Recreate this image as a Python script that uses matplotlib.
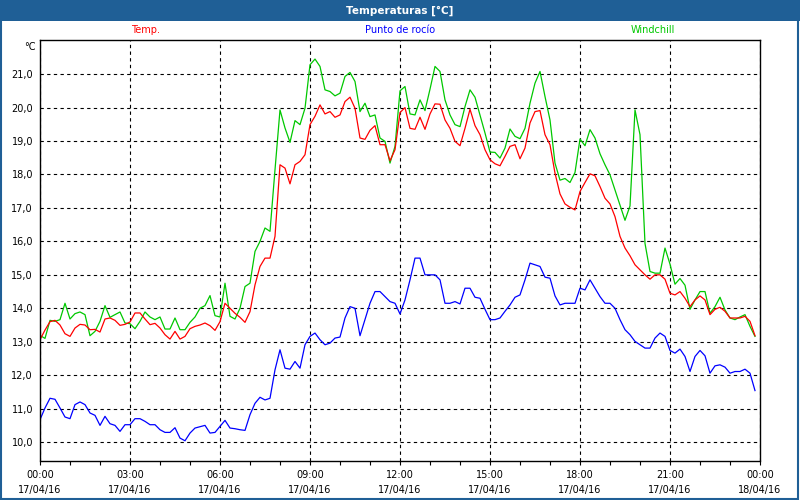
import matplotlib
matplotlib.use("Agg")
import matplotlib.pyplot as plt
import matplotlib.dates as mdates
from matplotlib.patches import Rectangle
import pandas as pd

# lecturas cada 10 minutos del 17/04/16
temp = [13.06, 13.35, 13.60, 13.64, 13.50, 13.24, 13.16, 13.41, 13.52, 13.50,
        13.36, 13.37, 13.29, 13.68, 13.71, 13.64, 13.49, 13.52, 13.59, 13.86,
        13.86, 13.68, 13.51, 13.55, 13.41, 13.21, 13.08, 13.31, 13.08, 13.16,
        13.39, 13.46, 13.50, 13.56, 13.48, 13.34, 13.60, 14.15, 14.00, 13.85,
        13.73, 13.58, 13.90, 14.70, 15.25, 15.50, 15.50, 16.15, 18.29, 18.19,
        17.72, 18.29, 18.39, 18.59, 19.49, 19.74, 20.08, 19.81, 19.88, 19.71,
        19.78, 20.18, 20.31, 19.98, 19.09, 19.05, 19.32, 19.46, 18.89, 18.89,
        18.41, 18.74, 19.85, 20.00, 19.38, 19.35, 19.71, 19.35, 19.81, 20.11,
        20.10, 19.63, 19.38, 18.99, 18.86, 19.38, 19.95, 19.46, 19.19, 18.74,
        18.44, 18.32, 18.26, 18.54, 18.84, 18.89, 18.47, 18.79, 19.54, 19.88,
        19.91, 19.19, 18.89, 18.04, 17.42, 17.12, 17.02, 16.94, 17.49, 17.76,
        18.02, 17.96, 17.64, 17.29, 17.12, 16.74, 16.15, 15.80, 15.57, 15.30,
        15.15, 15.00, 14.87, 15.00, 15.00, 14.87, 14.45, 14.40, 14.50, 14.30,
        14.05, 14.25, 14.37, 14.25, 13.81, 13.97, 14.03, 13.91, 13.71, 13.71,
        13.71, 13.76, 13.61, 13.18]

rocio = [10.67, 11.02, 11.31, 11.28, 11.02, 10.75, 10.70, 11.12, 11.20, 11.12,
         10.87, 10.80, 10.50, 10.77, 10.55, 10.50, 10.32, 10.52, 10.52, 10.70,
         10.70, 10.62, 10.52, 10.52, 10.37, 10.29, 10.29, 10.43, 10.12, 10.04,
         10.27, 10.42, 10.46, 10.50, 10.27, 10.29, 10.47, 10.65, 10.42, 10.40,
         10.37, 10.35, 10.82, 11.16, 11.34, 11.26, 11.31, 12.16, 12.76, 12.21,
         12.18, 12.41, 12.21, 12.91, 13.16, 13.26, 13.06, 12.91, 12.96, 13.11,
         13.14, 13.71, 14.05, 14.00, 13.18, 13.66, 14.15, 14.50, 14.50, 14.35,
         14.20, 14.15, 13.83, 14.25, 14.85, 15.50, 15.50, 15.00, 15.00, 15.00,
         14.85, 14.15, 14.15, 14.20, 14.13, 14.60, 14.60, 14.33, 14.30, 13.97,
         13.66, 13.66, 13.71, 13.91, 14.10, 14.33, 14.40, 14.85, 15.35, 15.30,
         15.25, 14.93, 14.90, 14.37, 14.10, 14.15, 14.15, 14.15, 14.60, 14.55,
         14.85, 14.60, 14.35, 14.15, 14.15, 14.00, 13.66, 13.36, 13.21, 13.01,
         12.91, 12.81, 12.81, 13.11, 13.26, 13.16, 12.74, 12.66, 12.78, 12.56,
         12.11, 12.56, 12.74, 12.58, 12.06, 12.28, 12.31, 12.24, 12.06, 12.11,
         12.11, 12.18, 12.06, 11.54]

windchill = [13.19, 13.10, 13.64, 13.61, 13.66, 14.15, 13.68, 13.84, 13.89, 13.81,
             13.18, 13.31, 13.61, 14.08, 13.73, 13.81, 13.89, 13.56, 13.54, 13.39,
             13.61, 13.89, 13.74, 13.66, 13.74, 13.38, 13.38, 13.71, 13.36, 13.36,
             13.58, 13.74, 14.00, 14.08, 14.38, 13.78, 13.74, 14.75, 13.76, 13.68,
             14.00, 14.65, 14.75, 15.70, 16.00, 16.40, 16.30, 18.14, 19.93, 19.39,
             18.96, 19.61, 19.49, 19.98, 21.28, 21.45, 21.23, 20.53, 20.48, 20.35,
             20.43, 20.93, 21.05, 20.78, 19.88, 20.13, 19.73, 19.78, 19.09, 18.99,
             18.34, 18.84, 20.50, 20.63, 19.81, 19.78, 20.23, 19.91, 20.55, 21.23,
             21.08, 20.23, 19.78, 19.49, 19.43, 20.03, 20.53, 20.31, 19.78, 19.24,
             18.67, 18.66, 18.49, 18.79, 19.36, 19.14, 19.07, 19.38, 20.13, 20.73,
             21.08, 20.33, 19.63, 18.34, 17.83, 17.88, 17.76, 18.06, 19.06, 18.86,
             19.34, 19.09, 18.62, 18.29, 17.99, 17.54, 17.10, 16.63, 17.06, 19.93,
             19.19, 15.94, 15.10, 15.05, 15.05, 15.80, 15.32, 14.72, 14.89, 14.69,
             13.97, 14.25, 14.50, 14.50, 13.85, 14.05, 14.33, 13.95, 13.71, 13.66,
             13.74, 13.81, 13.46, 13.16]

horas = pd.date_range("2016-04-17 00:00", periods=len(temp), freq="10min")

rojo = "#ff0000"
azul = "#0000ff"
verde = "#00c800"
marco = "#1f5f96"

plt.rcParams["font.family"] = "DejaVu Sans"
fig = plt.figure(figsize=(8, 5), dpi=100)
fig.patch.set_facecolor("white")

# barra de titulo y borde azul de la ventana
fig.patches.append(Rectangle((0, 0.958), 1, 0.042, transform=fig.transFigure,
                             facecolor=marco, edgecolor="none", zorder=0))
fig.patches.append(Rectangle((0.001, 0.002), 0.997, 0.996, transform=fig.transFigure,
                             facecolor="none", edgecolor=marco, linewidth=1.5, zorder=0))
fig.text(0.5, 0.979, "Temperaturas [°C]", color="white", fontsize=7.5,
         fontweight="bold", ha="center", va="center")

ax = fig.add_axes([0.05, 0.079, 0.90, 0.841])
ax.plot(horas, windchill, color=verde, lw=0.9)
ax.plot(horas, temp, color=rojo, lw=0.9)
ax.plot(horas, rocio, color=azul, lw=0.9)

ax.set_xlim(pd.Timestamp("2016-04-17 00:00"), pd.Timestamp("2016-04-18 00:00"))
ax.set_ylim(9.45, 22.02)

ax.xaxis.set_major_locator(mdates.HourLocator(byhour=range(0, 24, 3)))
ax.xaxis.set_minor_locator(mdates.HourLocator())
ax.xaxis.set_major_formatter(mdates.DateFormatter("%H:%M\n%d/%m/%y"))
ax.set_yticks(range(10, 22))
ax.set_yticklabels([f"{v:.1f}".replace(".", ",") for v in range(10, 22)])

ax.tick_params(axis="x", which="both", direction="out", length=3, width=0.8,
               labelsize=7, pad=4)
ax.tick_params(axis="y", length=0, labelsize=7, pad=5)
for lab in ax.get_xticklabels():
    lab.set_linespacing(1.6)

ax.grid(True, which="major", color="black", linestyle=(0, (3, 3)), linewidth=0.8)
for s in ax.spines.values():
    s.set_linewidth(1)
    s.set_color("black")

# leyenda encima del grafico
ax.text(0.147, 1.012, "Temp.", color=rojo, fontsize=7, ha="center",
        va="bottom", transform=ax.transAxes)
ax.text(0.5, 1.012, "Punto de rocío", color=azul, fontsize=7, ha="center",
        va="bottom", transform=ax.transAxes)
ax.text(0.851, 1.012, "Windchill", color=verde, fontsize=7, ha="center",
        va="bottom", transform=ax.transAxes)
fig.text(0.045, 0.905, "°C", fontsize=7, ha="right", va="center")

fig.savefig("out.png", dpi=100, facecolor=fig.get_facecolor())
